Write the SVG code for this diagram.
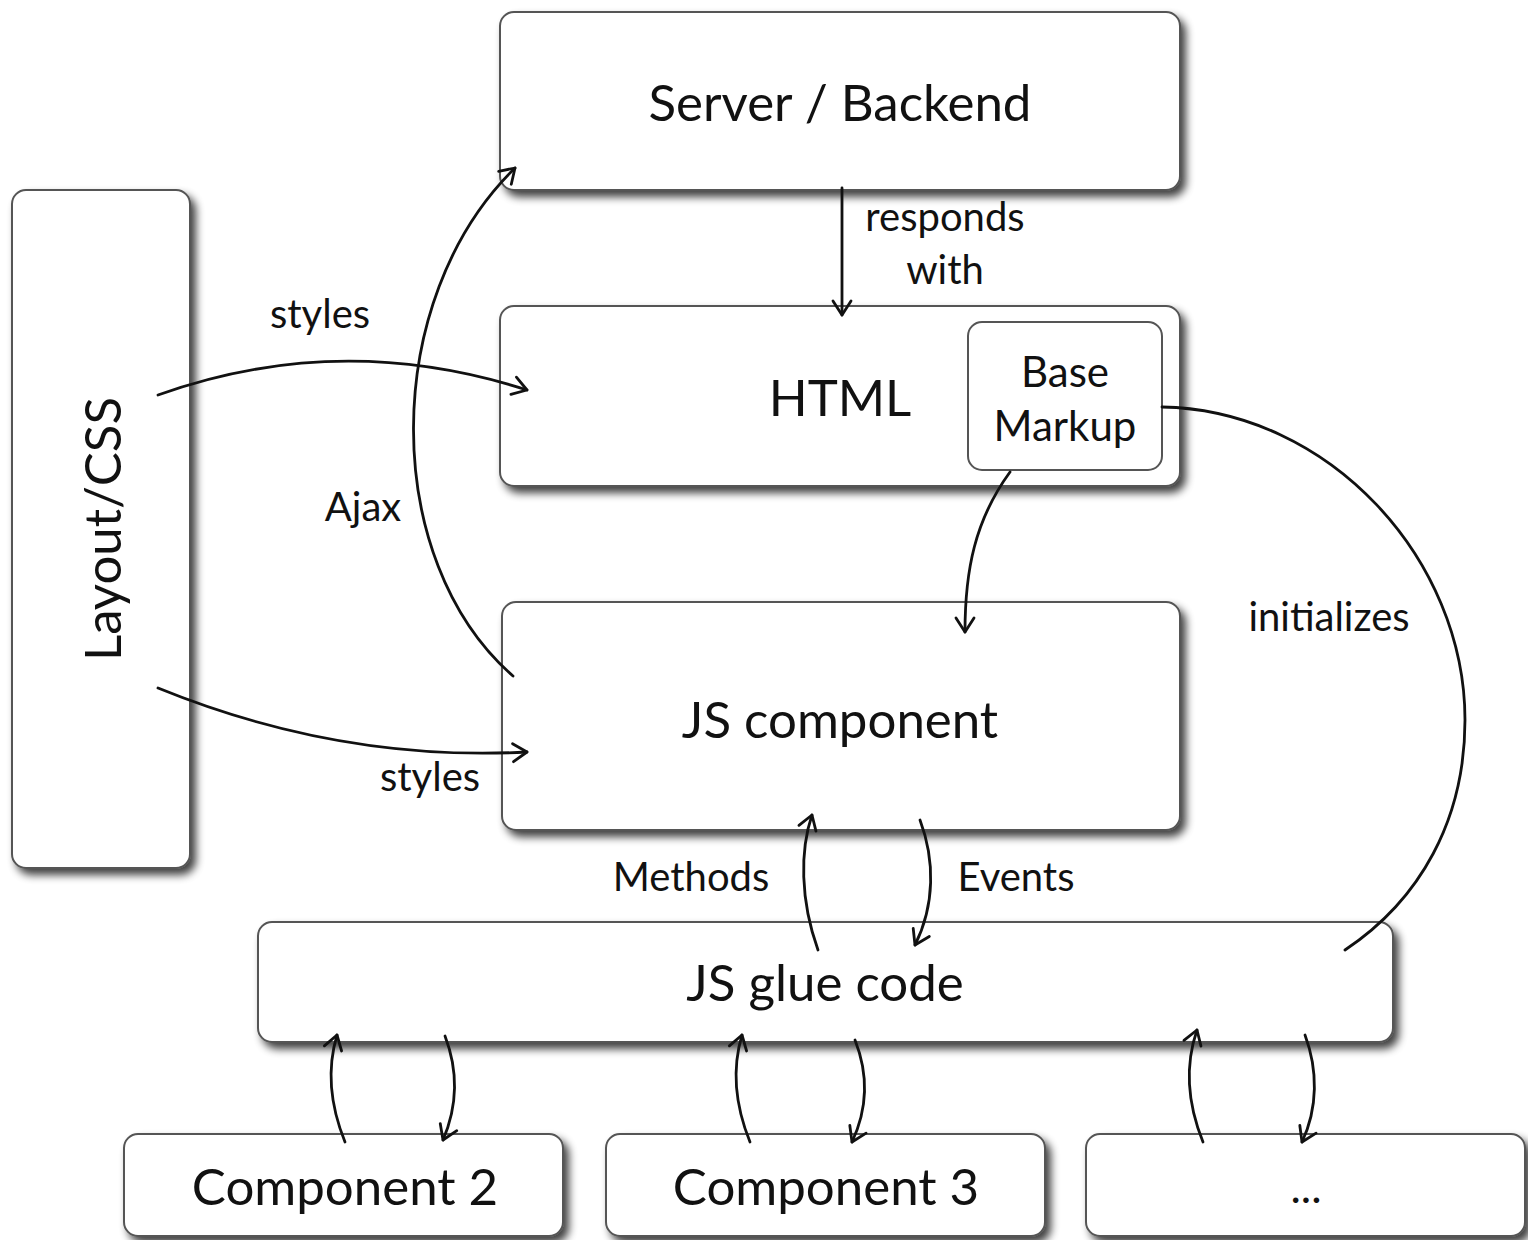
<svg xmlns="http://www.w3.org/2000/svg" width="1528" height="1240" viewBox="0 0 1528 1240">
<style>
.box{fill:#fff;stroke:#555;stroke-width:2;filter:url(#sh)}
.inner{fill:#fff;stroke:#555;stroke-width:2}
.t{font-family:Lato,"Open Sans","Liberation Sans",sans-serif;fill:#111;text-anchor:middle}
.big{font-size:51px}
.lbl{font-size:40px}
.c{fill:none;stroke:#111;stroke-width:2.8;stroke-linecap:round}
.a{marker-end:url(#ah)}
</style>
<defs>
<filter id="sh" x="-10%" y="-10%" width="130%" height="140%">
<feGaussianBlur in="SourceAlpha" stdDeviation="4"/>
<feOffset dx="5" dy="6" result="b"/>
<feComponentTransfer><feFuncA type="linear" slope="0.75"/></feComponentTransfer>
<feMerge><feMergeNode/><feMergeNode in="SourceGraphic"/></feMerge>
</filter>
<marker id="ah" viewBox="-17 -12 20 24" refX="0" refY="0" markerWidth="20" markerHeight="24" markerUnits="userSpaceOnUse" orient="auto">
<path d="M-14,-9 L0,0 L-14,9" fill="none" stroke="#111" stroke-width="2.8" stroke-linecap="round" stroke-linejoin="round"/>
</marker>
</defs>

<g id="server">
<rect class="box" x="500" y="12" width="680" height="178" rx="14"/>
<text class="t big" x="840" y="121">Server / Backend</text>
</g>
<g id="layout">
<rect class="box" x="12" y="190" width="178" height="678" rx="14"/>
<text class="t big" transform="translate(121,529) rotate(-90)">Layout/CSS</text>
</g>
<g id="html">
<rect class="box" x="500" y="306" width="680" height="180" rx="14"/>
<text class="t big" x="840" y="416">HTML</text>
</g>
<g id="basemarkup">
<rect class="inner" x="968" y="322" width="194" height="148" rx="14"/>
<text class="t" style="font-size:42px" x="1065" y="387">Base</text>
<text class="t" style="font-size:42px" x="1065" y="441">Markup</text>
</g>
<g id="jscomponent">
<rect class="box" x="502" y="602" width="678" height="228" rx="14"/>
<text class="t big" x="840" y="738">JS component</text>
</g>
<g id="glue">
<rect class="box" x="258" y="922" width="1135" height="120" rx="14"/>
<text class="t big" x="825" y="1001">JS glue code</text>
</g>
<g id="comp2">
<rect class="box" x="124" y="1134" width="439" height="102" rx="14"/>
<text class="t big" x="345" y="1205">Component 2</text>
</g>
<g id="comp3">
<rect class="box" x="606" y="1134" width="439" height="102" rx="14"/>
<text class="t big" x="826" y="1205">Component 3</text>
</g>
<g id="more">
<rect class="box" x="1086" y="1134" width="439" height="102" rx="14"/>
<text class="t" style="font-size:44px" x="1306" y="1203">...</text>
</g>

<g id="connectors">
<path class="c a" d="M842,188 L842,315"/>
<text class="t lbl" x="945" y="231">responds</text>
<text class="t lbl" x="945" y="284">with</text>

<path class="c a" d="M158,395 Q340,330 527,390"/>
<text class="t lbl" x="320" y="328">styles</text>

<path class="c a" d="M158,688 Q340,762 527,752"/>
<text class="t lbl" x="430" y="791">styles</text>

<path class="c a" d="M513,676 C380,560 380,300 515,168"/>
<text class="t lbl" x="363" y="521">Ajax</text>

<path class="c a" d="M1010,472 C975,520 965,570 965,632"/>

<path class="c" d="M1162,407 C1330,410 1465,560 1465,720 C1465,820 1420,900 1345,950"/>
<text class="t lbl" x="1329" y="631">initializes</text>

<path class="c a" d="M818,950 C800,900 800,850 812,815"/>
<text class="t lbl" x="691" y="891">Methods</text>
<path class="c a" d="M920,820 C935,860 935,905 915,945"/>
<text class="t lbl" x="1016" y="891">Events</text>

<path class="c a" d="M345,1142 C328,1100 328,1065 337,1035"/>
<path class="c a" d="M445,1036 C458,1070 458,1105 443,1140"/>
<path class="c a" d="M750,1142 C733,1100 733,1065 742,1035"/>
<path class="c a" d="M855,1040 C868,1073 868,1108 852,1142"/>
<path class="c a" d="M1203,1142 C1186,1100 1186,1062 1197,1030"/>
<path class="c a" d="M1305,1035 C1318,1070 1318,1108 1302,1142"/>
</g>
</svg>
